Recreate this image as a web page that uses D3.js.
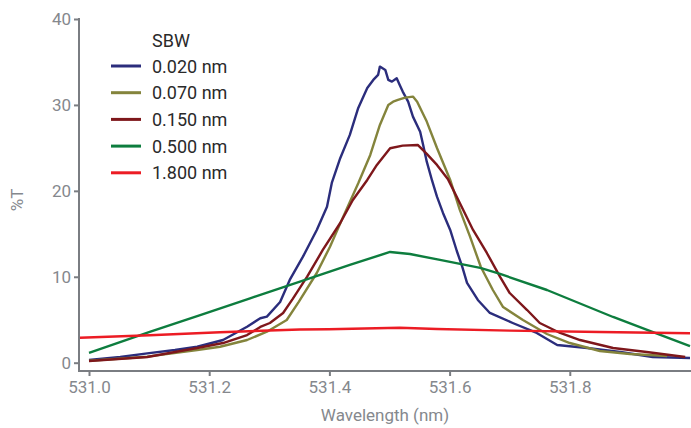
<!DOCTYPE html>
<html>
<head>
<meta charset="utf-8">
<script src="https://cdn.jsdelivr.net/npm/d3@7"></script>
<style>
  html, body { margin: 0; padding: 0; background: #fff; }
  svg { display: block; font-family: Roboto, "Noto Sans", sans-serif; }
</style>
</head>
<body>
<svg id="chart" width="691" height="428"></svg>
<script>
// Spectral bandwidth series: wavelength (nm) and transmittance (%T)
const sbw002_wl = [531.000,531.052,531.097,531.143,531.180,531.223,531.263,531.285,531.296,531.318,531.334,531.356,531.379,531.396,531.404,531.418,531.434,531.448,531.463,531.473,531.481,531.484,531.493,531.498,531.504,531.512,531.517,531.522,531.531,531.539,531.551,531.556,531.562,531.571,531.579,531.589,531.601,531.612,531.621,531.629,531.647,531.667,531.705,531.745,531.779,531.829,531.884,531.938,532.000];
const sbw002_t  = [0.31,0.66,1.09,1.48,1.86,2.64,4.19,5.17,5.36,7.07,9.63,12.34,15.45,18.16,20.92,23.80,26.51,29.65,31.98,32.91,33.49,34.46,34.07,32.91,32.71,33.11,32.33,31.55,30.38,28.64,26.89,25.34,23.40,21.15,19.32,17.43,15.45,13.00,11.18,9.28,7.30,5.79,4.62,3.46,2.06,1.71,1.25,0.66,0.55];

const sbw007_wl = [531.000,531.097,531.180,531.218,531.263,531.296,531.329,531.349,531.379,531.401,531.423,531.448,531.468,531.484,531.498,531.506,531.514,531.526,531.539,531.546,531.562,531.579,531.601,531.617,531.634,531.652,531.672,531.689,531.722,531.762,531.800,531.850,531.900,531.962];
const sbw007_t  = [0.23,0.70,1.48,1.86,2.64,3.61,4.97,7.07,10.44,13.50,17.00,20.88,24.18,27.67,30.00,30.38,30.58,30.85,30.97,30.38,28.06,24.99,21.27,17.78,14.67,11.14,8.46,6.48,4.97,3.34,2.29,1.36,1.01,0.78];

const sbw015_wl = [531.000,531.097,531.180,531.223,531.263,531.285,531.301,531.323,531.339,531.363,531.389,531.418,531.439,531.463,531.479,531.501,531.522,531.547,531.562,531.579,531.597,531.617,531.639,531.662,531.684,531.700,531.729,531.750,531.784,531.817,531.872,531.928,531.992];
const sbw015_t  = [0.20,0.66,1.71,2.29,3.22,4.16,4.62,5.79,7.42,10.01,13.12,16.26,18.94,21.27,23.02,24.96,25.26,25.34,24.30,23.02,21.39,18.59,15.45,12.77,9.98,8.11,6.13,4.62,3.46,2.64,1.71,1.25,0.66];

const sbw050_wl = [531.000,531.101,531.185,531.268,531.351,531.434,531.501,531.534,531.584,531.651,531.684,531.762,531.872,531.933,532.000];
const sbw050_t  = [1.13,3.59,5.54,7.49,9.44,11.39,12.89,12.65,11.96,11.03,10.33,8.46,5.32,3.69,1.94];

const sbw180_wl = [530.985,531.101,531.218,531.351,531.399,531.517,531.579,531.700,531.850,532.000];
const sbw180_t  = [2.91,3.20,3.55,3.87,3.89,4.07,3.92,3.73,3.57,3.42];

const seriesNames  = ["0.020 nm", "0.070 nm", "0.150 nm", "0.500 nm", "1.800 nm"];
const seriesColors = ["#2b2d7c", "#84843c", "#7e171b", "#0d7d3e", "#ec1c24"];
const seriesWl = [sbw002_wl, sbw007_wl, sbw015_wl, sbw050_wl, sbw180_wl];
const seriesT  = [sbw002_t, sbw007_t, sbw015_t, sbw050_t, sbw180_t];

const xTicks = [531.0, 531.2, 531.4, 531.6, 531.8];
const yTicks = [0, 10, 20, 30, 40];
const legendTitle = "SBW";

const svg = d3.select("#chart");
const axisColor = "#7a7d82";
const textGray = "#85888d";

const x = d3.scaleLinear().domain([531.0, 532.0]).range([89, 690]);
const y = d3.scaleLinear().domain([0, 40]).range([362.7, 19]);

// Axes
const gx = svg.append("g").attr("transform", "translate(0,371)")
  .call(d3.axisBottom(x).tickValues(xTicks).tickFormat(d3.format(".1f")).tickSize(5).tickPadding(5));
const gy = svg.append("g").attr("transform", "translate(79,0)")
  .call(d3.axisLeft(y).tickValues(yTicks).tickFormat(d3.format("d")).tickSize(5).tickPadding(3));
[gx, gy].forEach(g => {
  g.select(".domain").remove();
  g.selectAll(".tick line").attr("stroke", axisColor).attr("stroke-width", 2);
  g.selectAll(".tick text").attr("fill", textGray).style("font-size", "17px")
    .style("font-family", "Roboto, sans-serif");
});
svg.append("line").attr("x1", 79).attr("x2", 79).attr("y1", 18).attr("y2", 372)
  .attr("stroke", axisColor).attr("stroke-width", 2);
svg.append("line").attr("x1", 78).attr("x2", 691).attr("y1", 371).attr("y2", 371)
  .attr("stroke", axisColor).attr("stroke-width", 2);

// Axis titles
svg.append("text").attr("x", 385).attr("y", 421).attr("text-anchor", "middle")
  .attr("fill", textGray).style("font-size", "17px").text("Wavelength (nm)");
svg.append("text").attr("transform", "translate(23,200) rotate(-90)").attr("text-anchor", "middle")
  .attr("fill", textGray).style("font-size", "17px").text("%T");

// Spectra
const line = d3.line().x(d => x(d[0])).y(d => y(d[1]));
seriesNames.forEach((name, i) => {
  const pts = seriesWl[i].map((w, j) => [w, seriesT[i][j]]);
  svg.append("path").datum(pts).attr("d", line)
    .attr("fill", "none").attr("stroke", seriesColors[i])
    .attr("stroke-width", 2.4).attr("stroke-linejoin", "round");
});

// Legend
const lg = svg.append("g");
lg.append("text").attr("x", 152).attr("y", 47).attr("fill", "#2a2a2a")
  .style("font-size", "18px").text(legendTitle);
seriesNames.forEach((name, i) => {
  const ly = 66 + i * 26.7;
  lg.append("line").attr("x1", 111).attr("x2", 141).attr("y1", ly).attr("y2", ly)
    .attr("stroke", seriesColors[i]).attr("stroke-width", 3);
  lg.append("text").attr("x", 152).attr("y", ly + 6.5).attr("fill", "#2a2a2a")
    .style("font-size", "18px").text(name);
});
</script>
</body>
</html>
